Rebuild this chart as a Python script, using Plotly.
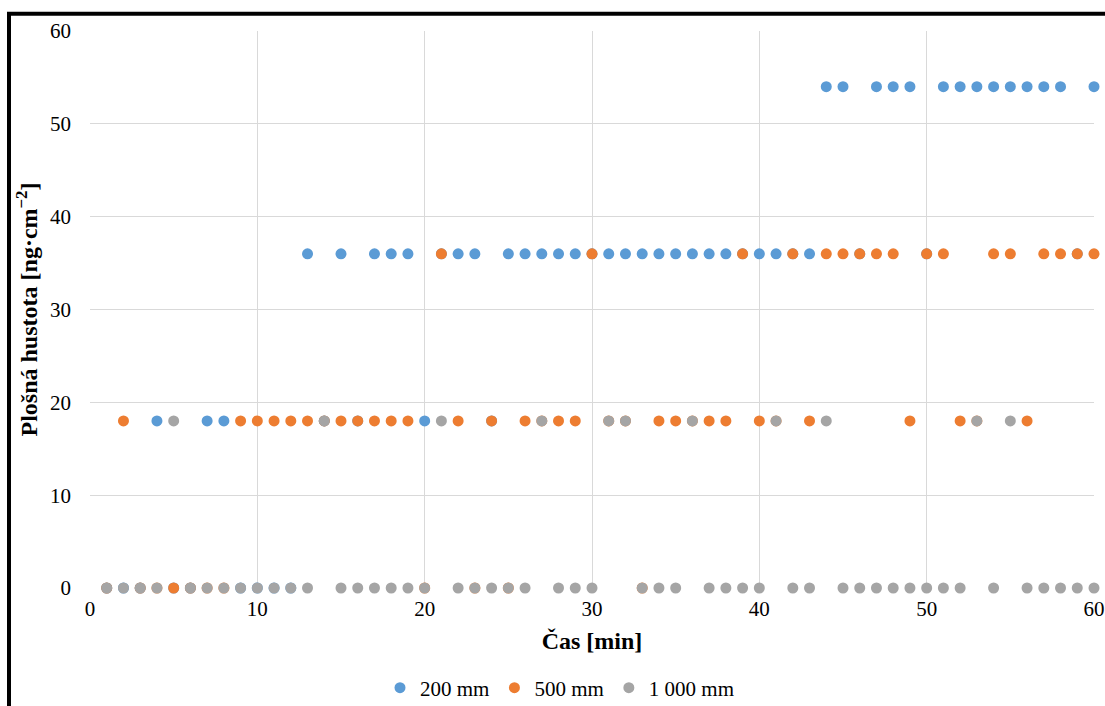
import plotly.graph_objects as go

minutes = list(range(1, 61))

# 200 mm
s200 = [0, 0, 0, 18, 0, 0, 18, 18, 0, 0,
        0, 0, 36, 18, 36, 18, 36, 36, 36, 18,
        36, 36, 36, 18, 36, 36, 36, 36, 36, 36,
        36, 36, 36, 36, 36, 36, 36, 36, 36, 36,
        36, 36, 36, 54, 54, 36, 54, 54, 54, 36,
        54, 54, 54, 54, 54, 54, 54, 54, 36, 54]
# 500 mm
s500 = [0, 18, 0, 0, 0, 0, 0, 0, 18, 18,
        18, 18, 18, 18, 18, 18, 18, 18, 18, 0,
        36, 18, 0, 18, 0, 18, 18, 18, 18, 36,
        18, 18, 0, 18, 18, 18, 18, 18, 36, 18,
        18, 36, 18, 36, 36, 36, 36, 36, 18, 36,
        36, 18, 18, 36, 36, 18, 36, 36, 36, 36]
# 1 000 mm
s1000 = [0, 0, 0, 0, 18, 0, 0, 0, 0, 0,
         0, 0, 0, 18, 0, 0, 0, 0, 0, 0,
         18, 0, 0, 0, 0, 0, 18, 0, 0, 0,
         18, 18, 0, 0, 0, 18, 0, 0, 0, 0,
         18, 0, 0, 18, 0, 0, 0, 0, 0, 0,
         0, 0, 18, 0, 18, 0, 0, 0, 0, 0]

names = ["200 mm", "500 mm", "1 000 mm"]
colors = ["#5B9BD5", "#ED7D31", "#A5A5A5"]

x_ticks = [0, 10, 20, 30, 40, 50, 60]
y_ticks = [0, 10, 20, 30, 40, 50, 60]

FONT = "Liberation Serif, Times New Roman, serif"

fig = go.Figure()
for name, vals, col in zip(names, [s200, s500, s1000], colors):
    fig.add_trace(go.Scatter(
        x=minutes, y=vals, mode="markers", name=name,
        marker=dict(color=col, size=11, line=dict(width=0)),
        cliponaxis=False,
    ))

# plot area in pixels: left 90, right 1094, top 31, bottom 588
L, R, T, B = 90, 1094, 31, 588
W, H = R - L, B - T

def px(p):
    return (p - L) / W

def py(q):
    return (B - q) / H

fig.update_layout(
    width=1105, height=706,
    margin=dict(l=L, r=1105 - R, t=T, b=706 - B, autoexpand=False),
    paper_bgcolor="white", plot_bgcolor="white",
    font=dict(family=FONT, size=21, color="black"),
    showlegend=True,
    legend=dict(orientation="h", x=px(560), xanchor="center",
                y=py(688), yanchor="middle",
                font=dict(family=FONT, size=21, color="black"),
                itemwidth=30, tracegroupgap=0),
    xaxis=dict(range=[0, 60], tickvals=x_ticks, showgrid=True,
               gridcolor="#D9D9D9", gridwidth=1, zeroline=False,
               showline=False, ticks="", ticklabelstandoff=6,
               tickfont=dict(family=FONT, size=21),
               title=dict(text="<b>Čas [min]</b>", standoff=12,
                          font=dict(family=FONT, size=24))),
    yaxis=dict(range=[0, 60], tickvals=y_ticks, showgrid=True,
               gridcolor="#D9D9D9", gridwidth=1, zeroline=False,
               showline=False, ticks="", ticklabelstandoff=18,
               tickfont=dict(family=FONT, size=21),
               title=dict(text="<b>Plošná hustota [ng·cm<sup>−2</sup>]</b>",
                          standoff=5,
                          font=dict(family=FONT, size=24))),
    shapes=[
        dict(type="line", xref="paper", yref="paper",
             x0=px(7), x1=px(1105), y0=py(13.8), y1=py(13.8),
             line=dict(color="black", width=4)),
        dict(type="line", xref="paper", yref="paper",
             x0=px(9), x1=px(9), y0=py(12), y1=py(706),
             line=dict(color="black", width=4)),
    ],
)

fig.write_html("out.html")
